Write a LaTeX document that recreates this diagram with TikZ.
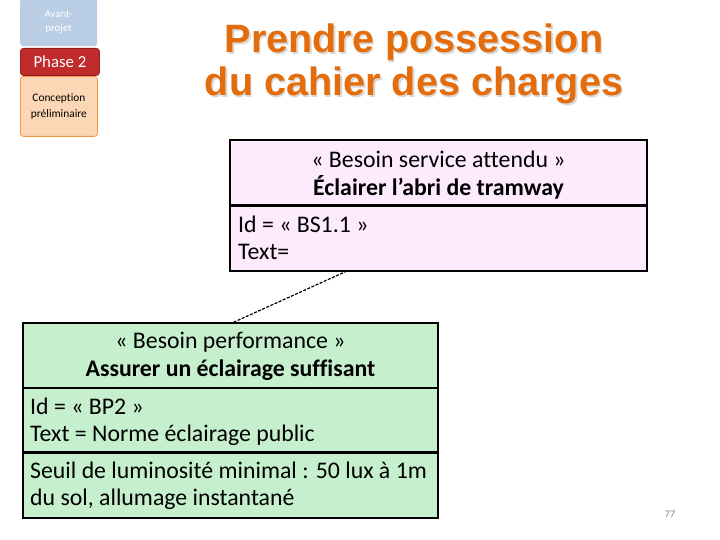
\documentclass[tikz,border=0pt]{standalone}
\usepackage{fontspec}
\setmainfont{Carlito}[Ligatures=NoCommon]
\newfontfamily\titlefont{Liberation Sans}
\definecolor{titleorange}{RGB}{228,108,10}
\definecolor{pinkfill}{RGB}{253,234,253}
\definecolor{greenfill}{RGB}{198,239,206}
\definecolor{avantfill}{RGB}{185,205,229}
\definecolor{phasered}{RGB}{192,44,44}
\definecolor{phaseborder}{RGB}{150,30,30}
\definecolor{concfill}{RGB}{252,215,182}
\definecolor{concborder}{RGB}{247,150,70}
\tikzset{
  umlbox/.style={draw=black, line width=2.5pt},
  cell/.style={inner sep=0pt, font=\fontsize{23.8}{28}\selectfont},
  boldcell/.style={inner sep=0pt, font=\fontsize{23.8}{28}\selectfont\bfseries},
  phasebox/.style={rounded corners=3pt, inner sep=0pt, align=center},
  titletext/.style={font=\titlefont\bfseries\fontsize{39.6}{43}\selectfont, align=center},
}
\begin{document}
\begin{tikzpicture}[x=1pt,y=-1pt]
\useasboundingbox (0,0) rectangle (720,540);
% left phase indicators
\node[phasebox, fill=avantfill, minimum width=77pt, minimum height=48pt, anchor=north west,
  text=white, font=\fontsize{10.8}{14}\selectfont] (avant) at (20,-2) {Avant-\\projet};
\node[phasebox, fill=concfill, draw=concborder, line width=0.8pt, minimum width=77pt, minimum height=60pt,
  anchor=north west, font=\fontsize{11.4}{16}\selectfont] (conc) at (20,76) {Conception\\préliminaire};
\node[phasebox, fill=phasered, draw=phaseborder, line width=0.8pt, minimum width=79pt, minimum height=27pt,
  anchor=north west, text=white, font=\fontsize{16.8}{18}\selectfont] (phase) at (20,48) {Phase 2};
% title
\node[titletext, text=gray!30] at (415.5,65.5) {Prendre possession\\du cahier des charges};
\node[titletext, text=titleorange] (title) at (414,64) {Prendre possession\\du cahier des charges};
% pink box
\draw[umlbox, fill=pinkfill] (230,140) rectangle (647,271);
\draw[umlbox] (230,205.5) -- (647,205.5);
\node[cell] (bsst) at (438.5,159) {« Besoin service attendu »};
\node[boldcell] (bsname) at (438.5,187) {Éclairer l’abri de tramway};
\node[cell, anchor=west] (bsid) at (238,224) {Id = « BS1.1 »};
\node[cell, anchor=west] (bstext) at (238,252) {Text=};
\coordinate (pinkAnchor) at (347,271);
% green box
\draw[umlbox, fill=greenfill] (23,323) rectangle (438,518);
\draw[umlbox] (23,388) -- (438,388);
\draw[umlbox] (23,452.5) -- (438,452.5);
\coordinate (greenAnchor) at (232,323);
\node[cell] (bpst) at (230.5,342) {« Besoin performance »};
\node[boldcell] (bpname) at (230.5,370) {Assurer un éclairage suffisant};
\node[cell, anchor=west] (bpid) at (30,406) {Id = « BP2 »};
\node[cell, anchor=west] (bptext) at (30,435) {Text = Norme éclairage public};
\node[cell, anchor=west] (bpl1) at (30,470) {Seuil de luminosité minimal : 50 lux à 1m};
\node[cell, anchor=west] (bpl2) at (30,499) {du sol, allumage instantané};
% dashed link
\draw[line width=1.2pt, dash pattern=on 3pt off 1.5pt] (pinkAnchor) -- (greenAnchor);
% page number
\node[text=gray, font=\fontsize{10}{11}\selectfont] (page) at (670,514) {77};
\end{tikzpicture}
\end{document}
